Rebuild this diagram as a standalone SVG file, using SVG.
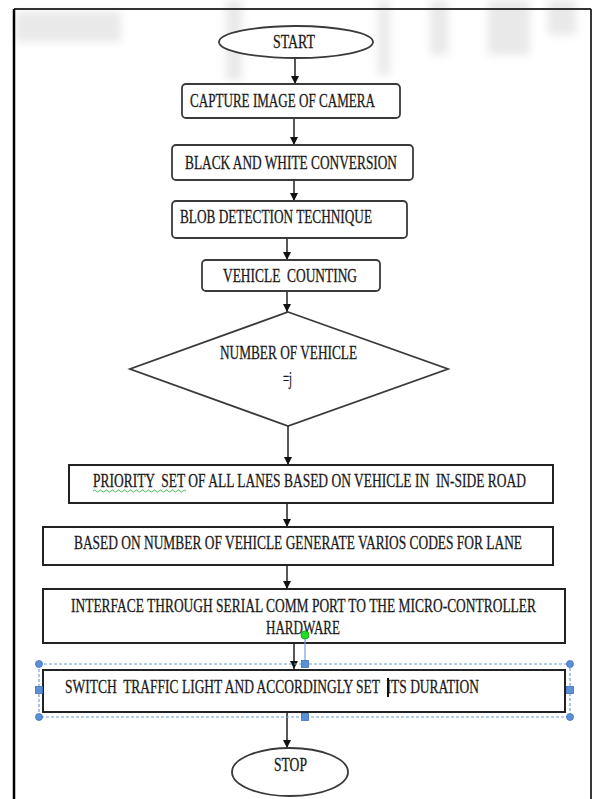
<svg xmlns="http://www.w3.org/2000/svg" width="592" height="799" viewBox="0 0 592 799">
<style>
.t{font-family:"Liberation Serif","Times New Roman",serif;font-size:13.3px;fill:#1a1a1a;stroke:#1a1a1a;stroke-width:0.2;white-space:pre}
.rb{fill:#fff;stroke:#3a3a3a;stroke-width:1.8}
.sb{fill:#fff;stroke:#222;stroke-width:2}
.ln{stroke:#111;stroke-width:1.4;fill:none}
.wm{fill:#e9e9e9}
.sel{fill:none;stroke:#6f9fe0;stroke-width:1.2;stroke-dasharray:3 2}
.hd{fill:#5b8fd6;stroke:#3f73bd;stroke-width:0.8}
</style>
<defs>
<marker id="ah" viewBox="0 0 8 8" refX="8" refY="4" markerWidth="8" markerHeight="8" markerUnits="userSpaceOnUse" orient="auto">
<path d="M0,0 L8,4 L0,8 z" fill="#111"/>
</marker>
<filter id="bl" x="-20%" y="-20%" width="140%" height="140%"><feGaussianBlur stdDeviation="4"/></filter>
</defs>
<rect width="592" height="799" fill="#fff"/>
<g id="watermark" filter="url(#bl)">
<rect class="wm" x="16" y="12" width="105" height="30"/>
<rect class="wm" x="226" y="0" width="16" height="80"/>
<rect class="wm" x="378" y="0" width="12" height="75"/>
<rect class="wm" x="430" y="0" width="18" height="55"/>
<rect class="wm" x="488" y="0" width="42" height="55"/>
<rect class="wm" x="548" y="0" width="28" height="35"/>
</g>
<g id="frame">
<line x1="14" y1="9" x2="591" y2="9" stroke="#333" stroke-width="2"/>
<line x1="14" y1="9" x2="14" y2="799" stroke="#000" stroke-width="2.5"/>
<line x1="591" y1="9" x2="591" y2="799" stroke="#222" stroke-width="1.8"/>
</g>
<g id="connectors">
<line class="ln" x1="295" y1="58" x2="295" y2="84" marker-end="url(#ah)"/>
<line class="ln" x1="294" y1="118" x2="294" y2="145" marker-end="url(#ah)"/>
<line class="ln" x1="294" y1="180" x2="294" y2="201" marker-end="url(#ah)"/>
<line class="ln" x1="287" y1="238" x2="287" y2="260" marker-end="url(#ah)"/>
<line class="ln" x1="287" y1="291" x2="287" y2="312" marker-end="url(#ah)"/>
<line class="ln" x1="288" y1="426" x2="288" y2="465" marker-end="url(#ah)"/>
<line class="ln" x1="287" y1="503" x2="287" y2="527" marker-end="url(#ah)"/>
<line class="ln" x1="287" y1="565" x2="287" y2="589" marker-end="url(#ah)"/>
<line class="ln" x1="294" y1="643" x2="294" y2="669" marker-end="url(#ah)"/>
<line class="ln" x1="287" y1="712" x2="287" y2="748" marker-end="url(#ah)"/>
</g>
<g id="start">
<ellipse cx="296" cy="42" rx="77" ry="16" class="rb"/>
<text class="t" transform="translate(273,48) scale(1,1.4)" textLength="42" lengthAdjust="spacingAndGlyphs">START</text>
</g>
<g id="capture">
<rect x="182" y="84" width="218" height="34" rx="4" class="rb"/>
<text class="t" transform="translate(190,107) scale(1,1.4)" textLength="185" lengthAdjust="spacingAndGlyphs">CAPTURE IMAGE OF CAMERA</text>
</g>
<g id="bw">
<rect x="172" y="145" width="241" height="35" rx="4" class="rb"/>
<text class="t" transform="translate(185,169) scale(1,1.4)" textLength="212" lengthAdjust="spacingAndGlyphs">BLACK AND WHITE CONVERSION</text>
</g>
<g id="blob">
<rect x="172" y="201" width="235" height="37" rx="4" class="rb"/>
<text class="t" transform="translate(180,223) scale(1,1.4)" textLength="192" lengthAdjust="spacingAndGlyphs">BLOB DETECTION TECHNIQUE</text>
</g>
<g id="counting">
<rect x="202" y="260" width="178" height="31" rx="4" class="rb"/>
<text class="t" transform="translate(223,282) scale(1,1.4)" textLength="134" lengthAdjust="spacingAndGlyphs">VEHICLE  COUNTING</text>
</g>
<g id="decision">
<polygon points="288,312 448,369 288,426 130,369" class="rb"/>
<text class="t" transform="translate(220,359) scale(1,1.4)" textLength="137" lengthAdjust="spacingAndGlyphs">NUMBER OF VEHICLE</text>
<text class="t" transform="translate(283,385) scale(1,1.4)" textLength="9" lengthAdjust="spacingAndGlyphs">=j</text>
</g>
<g id="priority">
<rect x="69" y="465" width="484" height="38" class="sb"/>
<text class="t" transform="translate(93,487) scale(1,1.4)" textLength="433" lengthAdjust="spacingAndGlyphs">PRIORITY  SET OF ALL LANES BASED ON VEHICLE IN  IN-SIDE ROAD</text>
<path d="M93,491 q1.5,-2 3,0 t3,0 t3,0 t3,0 t3,0 t3,0 t3,0 t3,0 t3,0 t3,0 t3,0 t3,0 t3,0 t3,0 t3,0 t3,0 t3,0 t3,0 t3,0 t3,0 t3,0 t3,0 t3,0 t3,0 t3,0 t3,0 t3,0 t3,0 t3,0 t3,0 t3,0" fill="none" stroke="#3cb043" stroke-width="0.9"/>
</g>
<g id="codes">
<rect x="43" y="527" width="510" height="38" class="sb"/>
<text class="t" transform="translate(74,549) scale(1,1.4)" textLength="448" lengthAdjust="spacingAndGlyphs">BASED ON NUMBER OF VEHICLE GENERATE VARIOS CODES FOR LANE</text>
</g>
<g id="interface">
<rect x="43" y="589" width="522" height="54" class="sb"/>
<text class="t" transform="translate(71,612) scale(1,1.4)" textLength="465" lengthAdjust="spacingAndGlyphs">INTERFACE THROUGH SERIAL COMM PORT TO THE MICRO-CONTROLLER</text>
<text class="t" transform="translate(266,634) scale(1,1.4)" textLength="74" lengthAdjust="spacingAndGlyphs">HARDWARE</text>
</g>
<g id="switch">
<rect x="43" y="670" width="522" height="42" class="sb"/>
<text class="t" transform="translate(65,693) scale(1,1.4)" textLength="414" lengthAdjust="spacingAndGlyphs">SWITCH  TRAFFIC LIGHT AND ACCORDINGLY SET  ITS DURATION</text>
<line x1="388" y1="678" x2="388" y2="697" stroke="#111" stroke-width="2"/>
</g>
<g id="selection">
<rect x="39" y="664" width="531" height="53" class="sel"/>
<line x1="305" y1="635" x2="305" y2="664" stroke="#6f9fe0" stroke-width="1.2"/>
<circle cx="305" cy="635" r="4" fill="#22dd22" stroke="#119911" stroke-width="0.8"/>
<circle cx="39" cy="664" r="3.5" class="hd"/>
<circle cx="570" cy="664" r="3.5" class="hd"/>
<circle cx="39" cy="717" r="3.5" class="hd"/>
<circle cx="570" cy="717" r="3.5" class="hd"/>
<rect x="301.5" y="660.5" width="7" height="7" class="hd"/>
<rect x="301.5" y="713.5" width="7" height="7" class="hd"/>
<rect x="35.5" y="686.5" width="7" height="7" class="hd"/>
<rect x="566.5" y="686.5" width="7" height="7" class="hd"/>
</g>
<g id="stop">
<ellipse cx="290" cy="772" rx="58" ry="24" class="rb"/>
<text class="t" transform="translate(274,771) scale(1,1.4)" textLength="33" lengthAdjust="spacingAndGlyphs">STOP</text>
</g>
</svg>
